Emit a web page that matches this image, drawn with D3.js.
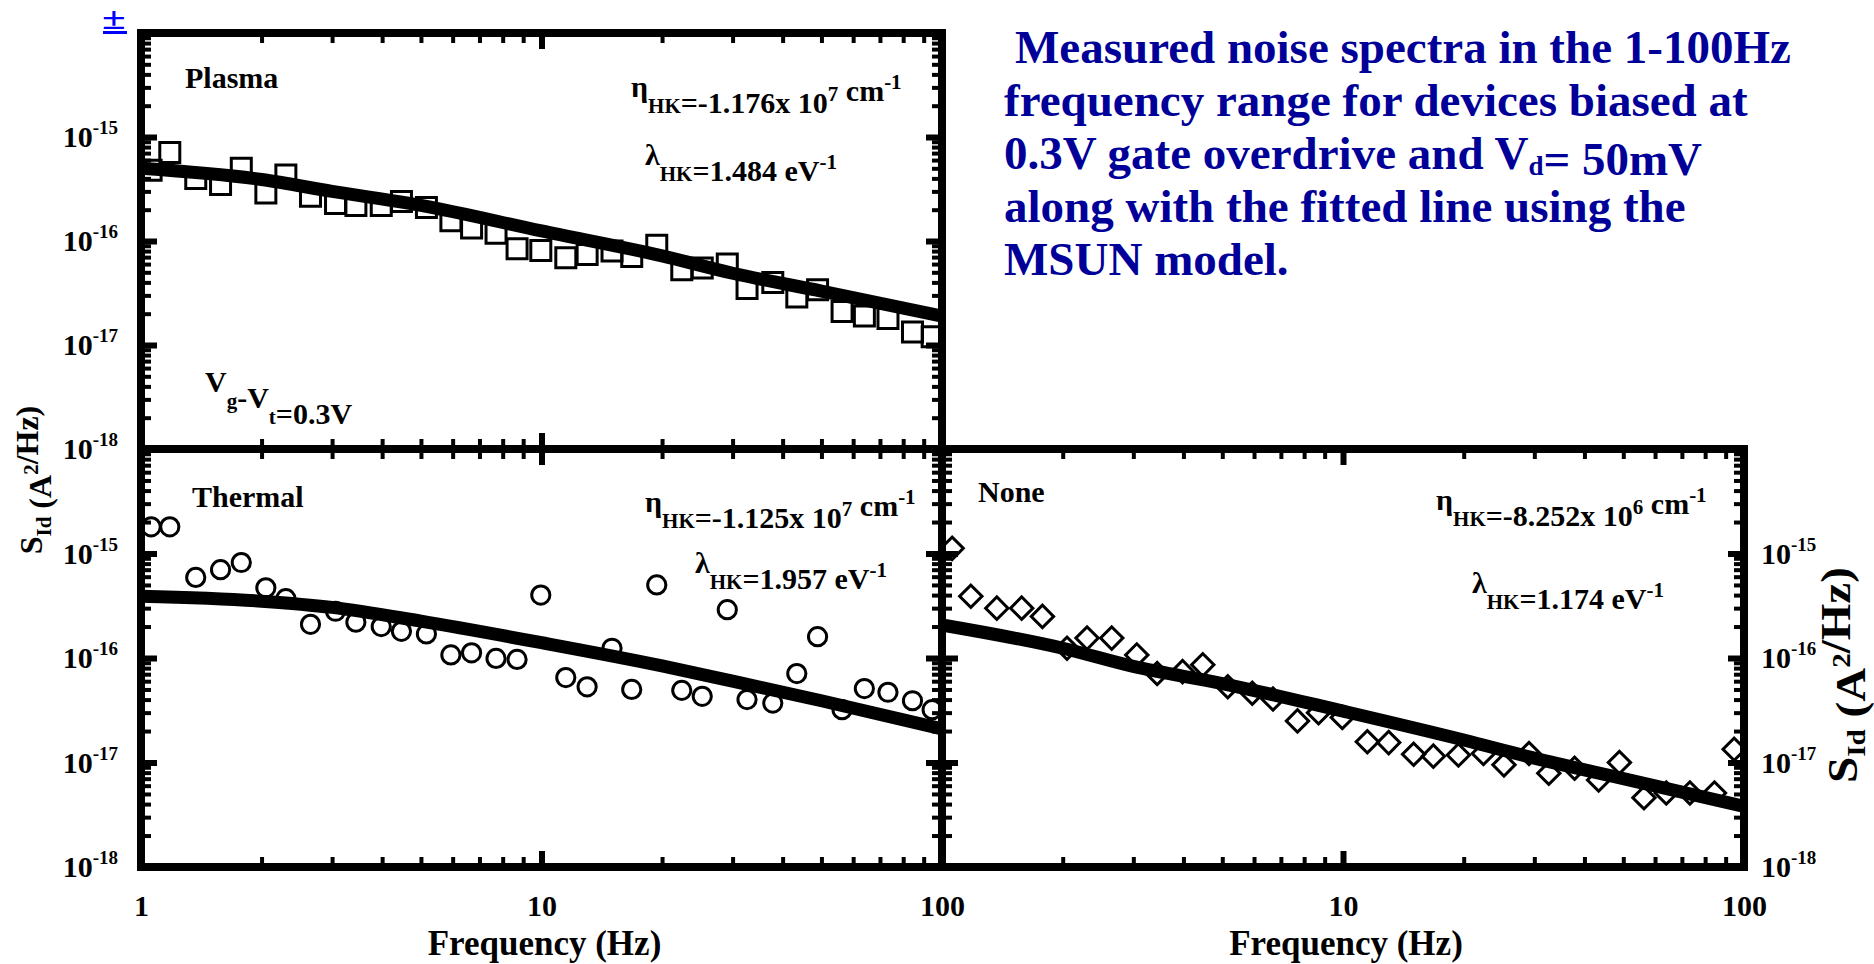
<!DOCTYPE html>
<html>
<head>
<meta charset="utf-8">
<script src="https://cdn.jsdelivr.net/npm/d3@7"></script>
<style>
  body { margin: 0; background: #fff; }
  text { font-family: "Liberation Serif", "Times New Roman", serif; font-weight: bold; }
</style>
</head>
<body>
<svg id="chart" width="1874" height="964"></svg>
<script>
// measured frequencies (Hz), shared by the three devices
var freq = [1.06, 1.18, 1.37, 1.58, 1.78, 2.05, 2.30, 2.65, 3.06, 3.44, 3.98, 4.47, 5.16, 5.94, 6.69, 7.70, 8.69, 9.96,
  11.5, 13.0, 15.0, 16.8, 19.4, 22.4, 25.2, 29.1, 32.6, 37.8, 43.4, 48.9, 56.3, 64.0, 73.3, 84.4, 94.5];

// S_Id (A^2/Hz)
var plasma = [4.8e-16, 7.1e-16, 4.0e-16, 3.5e-16, 5.0e-16, 2.9e-16, 4.3e-16, 2.7e-16, 2.3e-16, 2.2e-16, 2.2e-16, 2.4e-16,
  2.1e-16, 1.57e-16, 1.33e-16, 1.19e-16, 8.4e-17, 8.1e-17, 6.9e-17, 7.4e-17, 8.0e-17, 7.1e-17, 9.1e-17, 5.3e-17,
  5.5e-17, 6.0e-17, 3.5e-17, 4.0e-17, 2.9e-17, 3.4e-17, 2.1e-17, 1.9e-17, 1.8e-17, 1.33e-17, 1.2e-17];

var thermal = [1.8e-15, 1.8e-15, 5.9e-16, 7.0e-16, 8.2e-16, 4.7e-16, 3.7e-16, 2.1e-16, 2.8e-16, 2.2e-16, 2.0e-16, 1.8e-16,
  1.7e-16, 1.07e-16, 1.12e-16, 9.9e-17, 9.7e-17, 4.0e-16, 6.5e-17, 5.3e-17, 1.24e-16, 5.0e-17, 5.0e-16, 4.9e-17,
  4.3e-17, 2.9e-16, 4.0e-17, 3.7e-17, 7.1e-17, 1.6e-16, 3.2e-17, 5.1e-17, 4.7e-17, 3.9e-17, 3.2e-17];

var none = [1.12e-15, 3.9e-16, 3.0e-16, 3.0e-16, 2.5e-16, 1.24e-16, 1.55e-16, 1.55e-16, 1.07e-16, 7.1e-17, 7.4e-17, 8.6e-17,
  5.3e-17, 4.6e-17, 4.05e-17, 2.5e-17, 3.0e-17, 2.7e-17, 1.58e-17, 1.55e-17, 1.2e-17, 1.15e-17, 1.18e-17, 1.22e-17,
  9.5e-18, 1.22e-17, 7.9e-18, 8.8e-18, 6.8e-18, 1.0e-17, 4.6e-18, 5.1e-18, 5.1e-18, 5.1e-18, 1.34e-17];

// MSUN model fitted lines
var fitFreq = [1, 2, 3, 5, 10, 20, 30, 50, 100];
var plasmaFit = [5.0e-16, 3.9e-16, 3.0e-16, 2.2e-16, 1.25e-16, 7.2e-17, 4.9e-17, 3.3e-17, 1.9e-17];
var thermalFit = [3.9e-16, 3.5e-16, 3.05e-16, 2.25e-16, 1.4e-16, 8.4e-17, 6.0e-17, 3.9e-17, 2.1e-17];
var noneFit = [2.07e-16, 1.24e-16, 8.3e-17, 5.7e-17, 3.1e-17, 1.64e-17, 1.1e-17, 7.0e-18, 3.8e-18];

var yLabelTicks = [1e-15, 1e-16, 1e-17, 1e-18];

var titleLines = [
  [{t: 'Measured noise spectra in the 1-100Hz'}],
  [{t: 'frequency range for devices biased at'}],
  [{t: '0.3V gate overdrive and V'}, {t: 'd', sub: true}, {t: '= 50mV'}],
  [{t: 'along with the fitted line using the'}],
  [{t: 'MSUN model.'}]
];

var svg = d3.select('#chart');

var panels = [
  {name: 'Plasma', data: plasma, fit: plasmaFit, marker: 'square',
    x0: 141, x1: 942, y0: 33, y1: 449, yLabels: 'left', xLabels: null,
    notes: [
      {x: 185, y: 88, seg: [{t: 'Plasma'}]},
      {x: 631, y: 97, seg: [{t: 'η'}, {t: 'HK', sub: true}, {t: '=-1.176x 10'}, {t: '7', sup: true}, {t: ' cm'}, {t: '-1', sup: true}]},
      {x: 645, y: 165, seg: [{t: 'λ'}, {t: 'HK', sub: true}, {t: '=1.484 eV'}, {t: '-1', sup: true}]},
      {x: 205, y: 392, seg: [{t: 'V'}, {t: 'g', sub: true}, {t: '-V'}, {t: 't', sub: true}, {t: '=0.3V'}]}
    ]},
  {name: 'Thermal', data: thermal, fit: thermalFit, marker: 'circle',
    x0: 141, x1: 942, y0: 449, y1: 867, yLabels: 'left', xLabels: [1, 10, 100],
    notes: [
      {x: 192, y: 507, seg: [{t: 'Thermal'}]},
      {x: 645, y: 512, seg: [{t: 'η'}, {t: 'HK', sub: true}, {t: '=-1.125x 10'}, {t: '7', sup: true}, {t: ' cm'}, {t: '-1', sup: true}]},
      {x: 695, y: 573, seg: [{t: 'λ'}, {t: 'HK', sub: true}, {t: '=1.957 eV'}, {t: '-1', sup: true}]}
    ]},
  {name: 'None', data: none, fit: noneFit, marker: 'diamond',
    x0: 942, x1: 1744, y0: 449, y1: 867, yLabels: 'right', xLabels: [10, 100],
    notes: [
      {x: 978, y: 502, seg: [{t: 'None'}]},
      {x: 1436, y: 510, seg: [{t: 'η'}, {t: 'HK', sub: true}, {t: '=-8.252x 10'}, {t: '6', sup: true}, {t: ' cm'}, {t: '-1', sup: true}]},
      {x: 1472, y: 593, seg: [{t: 'λ'}, {t: 'HK', sub: true}, {t: '=1.174 eV'}, {t: '-1', sup: true}]}
    ]}
];

// writes segments with sub/superscripts into a text element
function richText(sel, seg, subSize, subDrop, supRise) {
  seg.forEach(function(s) {
    var ts = sel.append('tspan').text(s.t);
    if (s.sub) {
      ts.attr('dy', subDrop).attr('font-size', subSize);
      sel.append('tspan').attr('dy', -subDrop).attr('dx', 1).text('');
    } else if (s.sup) {
      ts.attr('dy', -supRise).attr('font-size', subSize);
      sel.append('tspan').attr('dy', supRise).text('');
    }
  });
}

function isMajor(d) {
  var l = Math.log10(d);
  return Math.abs(l - Math.round(l)) < 1e-6;
}

function tickAxes(g, axisFn, scale, translate) {
  var all = scale.ticks();
  var sets = [
    {vals: all.filter(function(d) { return !isMajor(d); }), len: -10, w: 4},
    {vals: all.filter(isMajor), len: -16, w: 6}
  ];
  sets.forEach(function(s) {
    var a = g.append('g')
      .attr('transform', translate)
      .call(axisFn(scale).tickValues(s.vals).tickSize(s.len).tickFormat(''));
    a.select('.domain').remove();
    a.selectAll('.tick line').attr('stroke', '#000').attr('stroke-width', s.w);
  });
}

function supLabels(a) {
  a.selectAll('.tick text').each(function(d) {
    var t = d3.select(this);
    t.text(null);
    t.append('tspan').text('10');
    t.append('tspan').attr('dy', -13).attr('font-size', 19).text(Math.round(Math.log10(d)));
  });
}

function styleLabels(a) {
  a.selectAll('.tick text').attr('font-size', 30).attr('fill', '#000')
    .attr('font-family', '"Liberation Serif", serif').attr('font-weight', 'bold');
}

panels.forEach(function(p) {
  var x = d3.scaleLog().domain([1, 100]).range([p.x0, p.x1]);
  var y = d3.scaleLog().domain([1e-18, 1e-14]).range([p.y1, p.y0]);
  var g = svg.append('g').attr('class', 'panel');

  // markers
  var sym = d3.symbol().type(p.marker === 'circle' ? d3.symbolCircle : d3.symbolSquare)
    .size(p.marker === 'square' ? 400 : p.marker === 'circle' ? 260 : 250);
  g.selectAll('.pt')
    .data(freq)
    .enter().append('path')
      .attr('class', 'pt')
      .attr('d', sym())
      .attr('transform', function(d, i) {
        return 'translate(' + x(d) + ',' + y(p.data[i]) + ')' + (p.marker === 'diamond' ? ' rotate(45)' : '');
      })
      .attr('fill', 'none')
      .attr('stroke', '#000')
      .attr('stroke-width', 3);

  // fitted line
  var line = d3.line()
    .x(function(d, i) { return x(d); })
    .y(function(d, i) { return y(p.fit[i]); })
    .curve(d3.curveMonotoneX);
  g.append('path')
    .datum(fitFreq)
    .attr('d', line)
    .attr('fill', 'none')
    .attr('stroke', '#000')
    .attr('stroke-width', 13);

  // inward ticks on all four sides
  tickAxes(g, d3.axisTop, x, 'translate(0,' + p.y0 + ')');
  tickAxes(g, d3.axisBottom, x, 'translate(0,' + p.y1 + ')');
  tickAxes(g, d3.axisLeft, y, 'translate(' + p.x0 + ',0)');
  tickAxes(g, d3.axisRight, y, 'translate(' + p.x1 + ',0)');

  // frame
  g.append('rect')
    .attr('x', p.x0).attr('y', p.y0)
    .attr('width', p.x1 - p.x0).attr('height', p.y1 - p.y0)
    .attr('fill', 'none').attr('stroke', '#000').attr('stroke-width', 8);

  // y tick labels
  var ya;
  if (p.yLabels === 'left') {
    ya = g.append('g').attr('transform', 'translate(' + p.x0 + ',0)')
      .call(d3.axisLeft(y).tickValues(yLabelTicks).tickSize(0).tickPadding(23));
  } else {
    ya = g.append('g').attr('transform', 'translate(' + p.x1 + ',0)')
      .call(d3.axisRight(y).tickValues(yLabelTicks).tickSize(0).tickPadding(17));
  }
  ya.select('.domain').remove();
  styleLabels(ya);
  supLabels(ya);

  // x tick labels and title
  if (p.xLabels) {
    var xa = g.append('g').attr('transform', 'translate(0,' + p.y1 + ')')
      .call(d3.axisBottom(x).tickValues(p.xLabels).tickSize(0).tickPadding(28).tickFormat(d3.format('d')));
    xa.select('.domain').remove();
    styleLabels(xa);
    g.append('text')
      .attr('x', (p.x0 + p.x1) / 2 + 3).attr('y', 955)
      .attr('text-anchor', 'middle').attr('font-size', 35)
      .text('Frequency (Hz)');
  }

  // annotations
  p.notes.forEach(function(n) {
    var t = g.append('text').attr('x', n.x).attr('y', n.y).attr('font-size', 30);
    richText(t, n.seg, 21, 16, 12);
  });
});

// axis titles
var yTitleSeg = [{t: 'S'}, {t: 'Id', sub: true}, {t: ' (A'}, {t: '2', sup: true}, {t: '/Hz)'}];
var yl = svg.append('text').attr('transform', 'translate(42,480) rotate(-90)')
  .attr('text-anchor', 'middle').attr('font-size', 32);
richText(yl, yTitleSeg, 21, 9, 13);
var yr = svg.append('text').attr('transform', 'translate(1857,675) rotate(-90) scale(1.12,1)')
  .attr('text-anchor', 'middle').attr('font-size', 42);
richText(yr, yTitleSeg, 26, 8, 15);

// blue plus-minus mark
svg.append('text').attr('transform', 'translate(102,29) scale(1.35,1)')
  .attr('font-size', 32).attr('font-weight', 'normal').attr('fill', '#0000ff')
  .text('±');
svg.append('rect').attr('x', 103).attr('y', 31).attr('width', 24).attr('height', 3).attr('fill', '#0000ff');

// caption
var title = svg.append('g');
titleLines.forEach(function(l, i) {
  var t = title.append('text')
    .attr('x', i === 0 ? 1015 : 1004)
    .attr('y', 63 + i * 53)
    .attr('font-size', 47)
    .attr('fill', '#000099');
  richText(t, l, 27, 6, 14);
});
</script>
</body>
</html>
